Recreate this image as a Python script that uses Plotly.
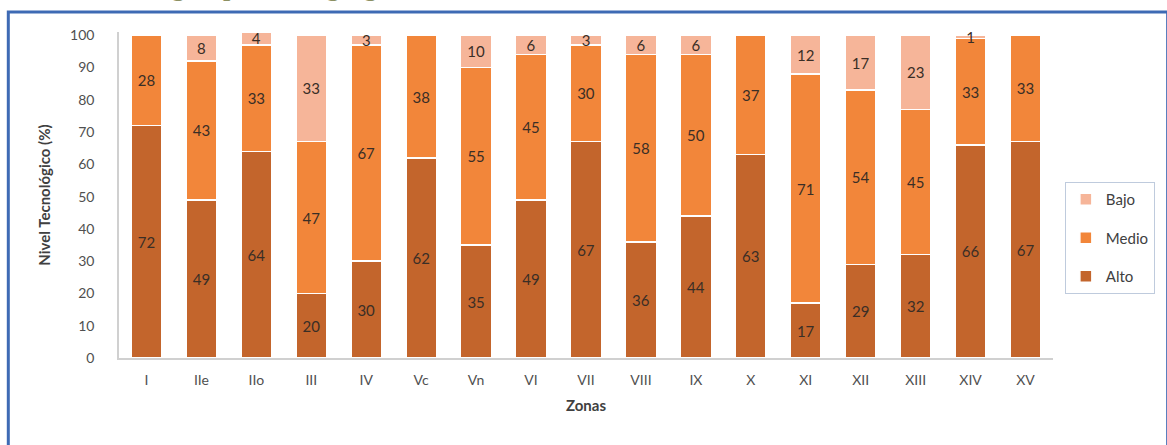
import plotly.graph_objects as go

# Zonas and technological level shares (%)
zonas = ["I", "IIe", "IIo", "III", "IV", "Vc", "Vn", "VI", "VII", "VIII",
         "IX", "X", "XI", "XII", "XIII", "XIV", "XV"]
alto = [72, 49, 64, 20, 30, 62, 35, 49, 67, 36, 44, 63, 17, 29, 32, 66, 67]
medio = [28, 43, 33, 47, 67, 38, 55, 45, 30, 58, 50, 37, 71, 54, 45, 33, 33]
bajo = [0, 8, 4, 33, 3, 0, 10, 6, 3, 6, 6, 0, 12, 17, 23, 1, 0]
y_ticks = [0, 10, 20, 30, 40, 50, 60, 70, 80, 90, 100]

W, H = 1167, 445
Y_TOP = 101                      # a little headroom so IIo (101) keeps its label
PIX_0, PIX_100 = 358, 35         # pixel rows of 0 and 100
unit = (PIX_0 - PIX_100) / 100
M_L, M_R = 119, 103
M_B = H - PIX_0
M_T = round(PIX_100 - (Y_TOP - 100) * unit)
PW, PH = W - M_L - M_R, H - M_T - M_B


def px_x(x):
    return (x - M_L) / PW


def px_y(y):
    return 1 - (y - M_T) / PH


FONT = "Lato, 'Open Sans', sans-serif"
series = [
    ("Alto", alto, "#C3652C", 3),
    ("Medio", medio, "#F2863A", 2),
    ("Bajo", bajo, "#F6B599", 1),
]

fig = go.Figure()
for name, vals, color, rank in series:
    fig.add_trace(go.Bar(
        x=zonas, y=vals, name=name, legendgroup=name, legendrank=rank,
        marker=dict(color=color, line=dict(color="white", width=1.5)),
        text=[str(v) if v > 0 else "" for v in vals],
        textposition="inside", insidetextanchor="middle", textangle=0,
        textfont=dict(family=FONT, size=15, color="#3A2E26"),
        cliponaxis=False,
    ))

fig.update_layout(
    width=W, height=H,
    margin=dict(l=M_L, r=M_R, t=M_T, b=M_B),
    barmode="stack", bargap=0.44,
    plot_bgcolor="white", paper_bgcolor="white",
    uniformtext=dict(mode="show", minsize=15),
    font=dict(family=FONT, color="#595959"),
    legend=dict(
        x=px_x(1076), xanchor="left", y=px_y(238), yanchor="middle",
        traceorder="grouped", tracegroupgap=16,
        bordercolor="#BFCBDD", borderwidth=1, bgcolor="white",
        font=dict(family=FONT, size=15, color="#404040"),
        itemwidth=30,
    ),
    xaxis=dict(
        showline=True, linecolor="#D0D0D0", linewidth=1.5,
        ticks="", tickfont=dict(size=14, color="#505050"),
        ticklabelstandoff=8,
        title=dict(text="<b>Zonas</b>", font=dict(size=15, color="#404040"),
                   standoff=14),
    ),
    yaxis=dict(
        range=[0, Y_TOP], tickvals=y_ticks, showgrid=False, zeroline=False,
        showline=True, linecolor="#D0D0D0", linewidth=1.5,
        ticks="", tickfont=dict(size=14, color="#505050"),
        ticklabelstandoff=20,
        title=dict(text="<b>Nivel Tecnológico (%)</b>",
                   font=dict(size=15, color="#404040"), standoff=16),
    ),
    shapes=[dict(
        type="rect", xref="paper", yref="paper", layer="below",
        x0=px_x(7), x1=px_x(1180), y0=px_y(460), y1=px_y(12),
        line=dict(color="#3E6AB4", width=3), fillcolor="rgba(0,0,0,0)",
    )],
    annotations=[dict(
        text="<b>Nivel tecnológico por zona geográfica</b>",
        xref="paper", yref="paper", x=px_x(25), xanchor="left",
        y=px_y(4), yanchor="bottom", showarrow=False,
        font=dict(family="'Liberation Serif', serif", size=26, color="#8C9063"),
    )],
)

fig.write_html("out.html")
